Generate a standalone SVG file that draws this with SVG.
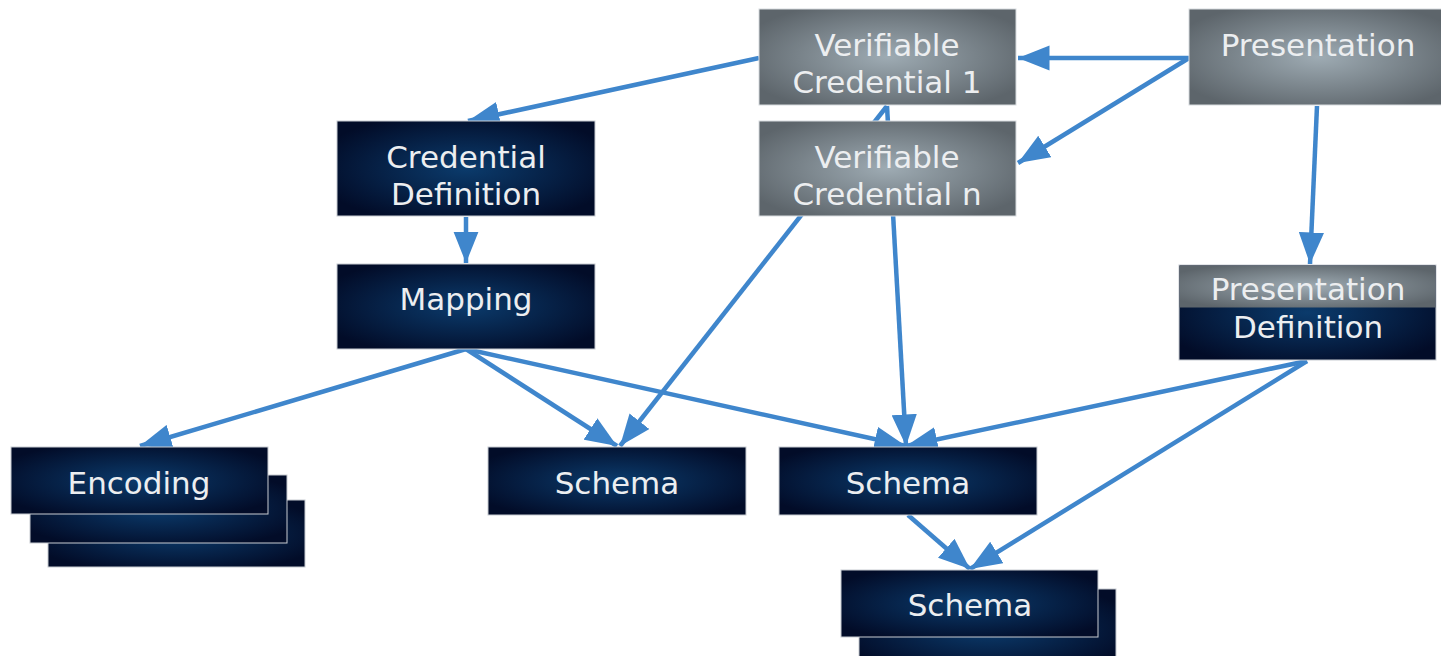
<svg xmlns="http://www.w3.org/2000/svg" width="1441" height="656" viewBox="0 0 1441 656">
<style>
.dark{fill:url(#gDark);stroke:#c8ccd2;stroke-width:1}
.gray{fill:url(#gGray);stroke:#d8dcdf;stroke-width:1}
.t{font-family:"DejaVu Sans","Verdana",sans-serif;font-size:31px;fill:#eceef0;text-anchor:middle}
.c{stroke:#3f86cc;stroke-width:4.5;fill:none;marker-end:url(#ah)}
</style>
<defs>
<radialGradient id="gDark" cx="0.5" cy="0.5" r="0.6">
<stop offset="0" stop-color="#0b3b6c"/>
<stop offset="1" stop-color="#020c28"/>
</radialGradient>
<radialGradient id="gGray" cx="0.5" cy="0.5" r="0.6">
<stop offset="0" stop-color="#9eabb3"/>
<stop offset="1" stop-color="#5d656b"/>
</radialGradient>
<marker id="ah" viewBox="0 0 10 8" refX="10" refY="4" markerWidth="7" markerHeight="5.6" orient="auto" markerUnits="strokeWidth">
<path d="M0,0 L10,4 L0,8 Z" fill="#3f86cc"/>
</marker>
</defs>
<g id="connectors">
<line class="c" x1="887" y1="106" x2="620" y2="446"/>
<line class="c" x1="887" y1="106" x2="906" y2="446"/>
<line class="c" x1="759" y1="58" x2="468" y2="121"/>
<line class="c" x1="1189" y1="58" x2="1018" y2="58"/>
<line class="c" x1="1189" y1="58" x2="1018" y2="163"/>
<line class="c" x1="1317" y1="106" x2="1310" y2="264"/>
<line class="c" x1="466" y1="217" x2="466" y2="263"/>
<line class="c" x1="466" y1="349" x2="140" y2="446"/>
<line class="c" x1="466" y1="349" x2="617" y2="446"/>
<line class="c" x1="466" y1="349" x2="906" y2="446"/>
<line class="c" x1="1307" y1="361" x2="906" y2="446"/>
<line class="c" x1="1307" y1="361" x2="970" y2="569"/>
<line class="c" x1="908" y1="515" x2="970" y2="569"/>
</g>
<g id="vc1">
<rect class="gray" x="759" y="9" width="257" height="96"/>
<text class="t" x="887" y="56">Verifiable</text>
<text class="t" x="887" y="93">Credential 1</text>
</g>
<g id="vcn">
<rect class="gray" x="759" y="121" width="257" height="95"/>
<text class="t" x="887" y="168">Verifiable</text>
<text class="t" x="887" y="205">Credential n</text>
</g>
<g id="presentation">
<rect class="gray" x="1189" y="9" width="260" height="96"/>
<text class="t" x="1318" y="56">Presentation</text>
</g>
<g id="credential-definition">
<rect class="dark" x="337" y="121" width="258" height="95"/>
<text class="t" x="466" y="168">Credential</text>
<text class="t" x="466" y="205">Definition</text>
</g>
<g id="mapping">
<rect class="dark" x="337" y="264" width="258" height="85"/>
<text class="t" x="466" y="310">Mapping</text>
</g>
<g id="presentation-definition">
<rect class="dark" x="1179" y="265" width="257" height="95"/>
<rect x="1179.5" y="265.5" width="256" height="42" fill="url(#gGray)"/>
<text class="t" x="1308" y="300">Presentation</text>
<text class="t" x="1308" y="338">Definition</text>
</g>
<g id="encoding">
<rect class="dark" x="48" y="500" width="257" height="67"/>
<rect class="dark" x="30" y="475" width="257" height="68"/>
<rect class="dark" x="11" y="447" width="257" height="67"/>
<text class="t" x="139" y="494">Encoding</text>
</g>
<g id="schema-1">
<rect class="dark" x="488" y="447" width="258" height="68"/>
<text class="t" x="617" y="494">Schema</text>
</g>
<g id="schema-2">
<rect class="dark" x="779" y="447" width="258" height="68"/>
<text class="t" x="908" y="494">Schema</text>
</g>
<g id="schema-3">
<rect class="dark" x="859" y="589" width="257" height="80"/>
<rect class="dark" x="841" y="570" width="257" height="67"/>
<text class="t" x="970" y="616">Schema</text>
</g>
</svg>
